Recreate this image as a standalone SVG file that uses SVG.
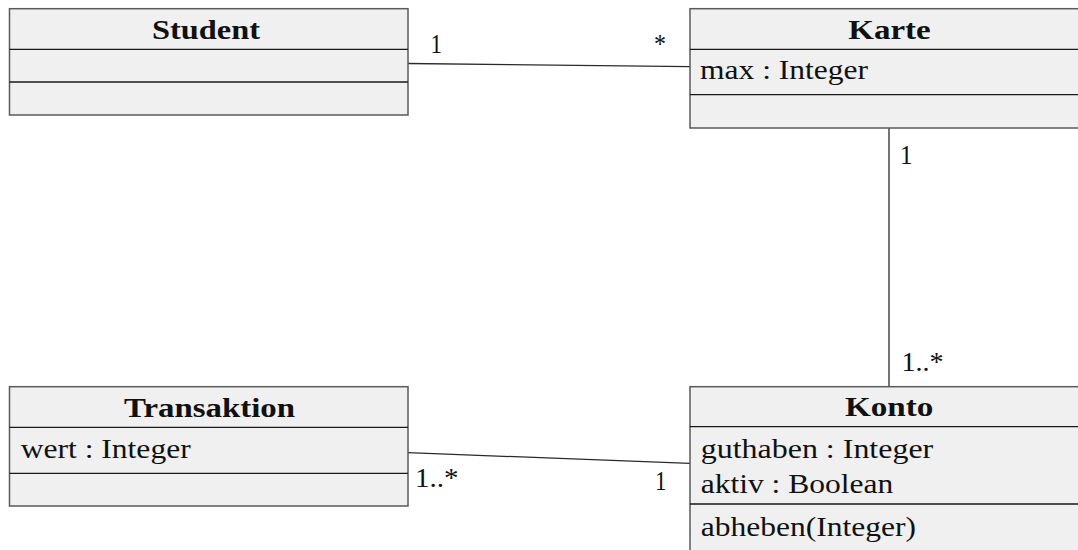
<svg xmlns="http://www.w3.org/2000/svg" width="1078" height="550" viewBox="0 0 1078 550">
<style>
.box{fill:#f0f0f0;stroke:#5a5a5a;stroke-width:1.5}
.div{stroke:#1a1a1a;stroke-width:1.3}
.t{font-family:"Liberation Serif","DejaVu Serif",serif;font-size:27px;fill:#111}
.b{font-weight:bold}
.conn{stroke:#2a2a2a;stroke-width:1.3;fill:none}
</style>
<rect width="1078" height="550" fill="#ffffff"/>
<g id="connectors">
<line class="conn" x1="408" y1="63.5" x2="690" y2="66.7"/>
<line class="conn" x1="889" y1="128" x2="889" y2="386.7"/>
<line class="conn" x1="408" y1="452.7" x2="690" y2="463.3"/>
<text class="t" x="430.5" y="53.3" textLength="11.5" lengthAdjust="spacingAndGlyphs">1</text>
<text class="t" x="654" y="52.5" textLength="12" lengthAdjust="spacingAndGlyphs">*</text>
<text class="t" x="900" y="164" textLength="12.5" lengthAdjust="spacingAndGlyphs">1</text>
<text class="t" x="901.5" y="370.7" textLength="42" lengthAdjust="spacingAndGlyphs">1..*</text>
<text class="t" x="415" y="486.7" textLength="43.5" lengthAdjust="spacingAndGlyphs">1..*</text>
<text class="t" x="655" y="490" textLength="11.5" lengthAdjust="spacingAndGlyphs">1</text>
</g>
<g id="student">
<rect class="box" x="9.5" y="8.7" width="398.5" height="106.3"/>
<line class="div" x1="9.5" y1="49.3" x2="408" y2="49.3"/>
<line class="div" x1="9.5" y1="82" x2="408" y2="82"/>
<text class="t b" x="152" y="38.5" textLength="108" lengthAdjust="spacingAndGlyphs">Student</text>
</g>
<g id="karte">
<rect class="box" x="690" y="8.7" width="400" height="119.3"/>
<line class="div" x1="690" y1="49.3" x2="1090" y2="49.3"/>
<line class="div" x1="690" y1="94.7" x2="1090" y2="94.7"/>
<text class="t b" x="848.3" y="39" textLength="82.4" lengthAdjust="spacingAndGlyphs">Karte</text>
<text class="t" x="700" y="78.5" textLength="168" lengthAdjust="spacingAndGlyphs">max : Integer</text>
</g>
<g id="transaktion">
<rect class="box" x="9.5" y="386.7" width="398.5" height="119.3"/>
<line class="div" x1="9.5" y1="427.3" x2="408" y2="427.3"/>
<line class="div" x1="9.5" y1="473.3" x2="408" y2="473.3"/>
<text class="t b" x="124" y="416.7" textLength="171" lengthAdjust="spacingAndGlyphs">Transaktion</text>
<text class="t" x="20.7" y="458.3" textLength="170" lengthAdjust="spacingAndGlyphs">wert : Integer</text>
</g>
<g id="konto">
<rect class="box" x="690" y="386.7" width="400" height="180"/>
<line class="div" x1="690" y1="426.7" x2="1090" y2="426.7"/>
<line class="div" x1="690" y1="504" x2="1090" y2="504"/>
<text class="t b" x="845" y="416" textLength="88.3" lengthAdjust="spacingAndGlyphs">Konto</text>
<text class="t" x="700.7" y="458.3" textLength="232.6" lengthAdjust="spacingAndGlyphs">guthaben : Integer</text>
<text class="t" x="700.7" y="493.3" textLength="192.6" lengthAdjust="spacingAndGlyphs">aktiv : Boolean</text>
<text class="t" x="700.7" y="535.5" textLength="215.3" lengthAdjust="spacingAndGlyphs">abheben(Integer)</text>
</g>
</svg>
